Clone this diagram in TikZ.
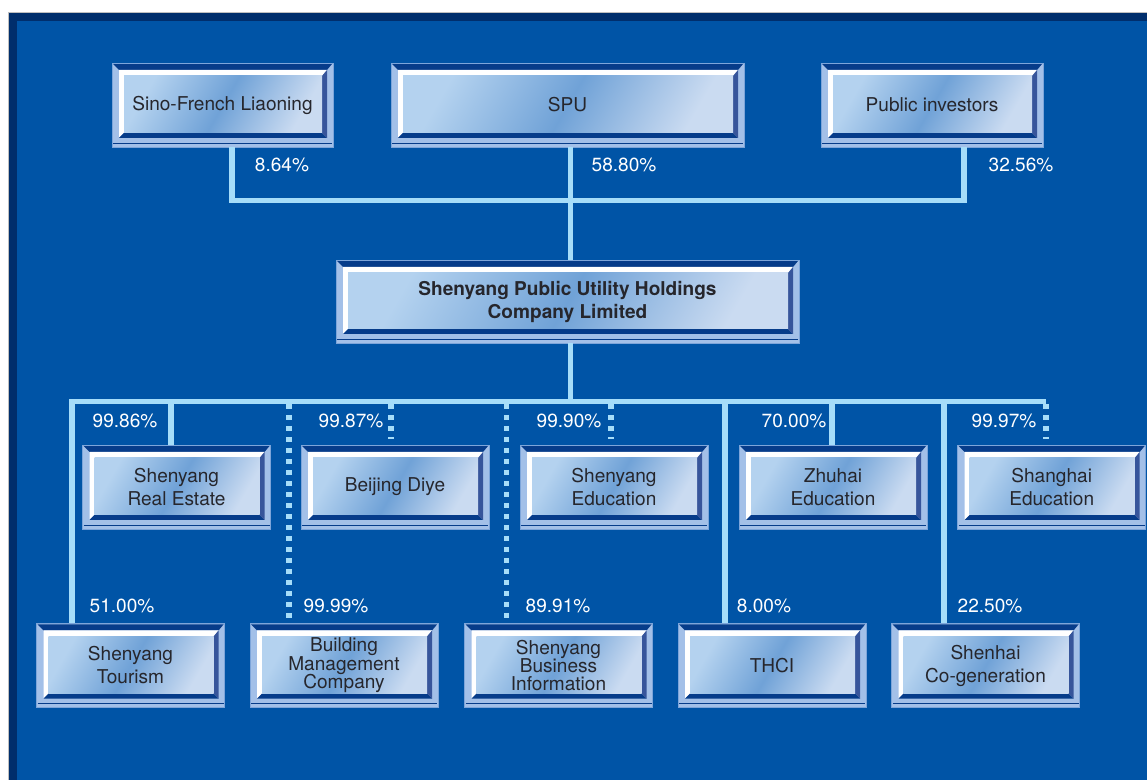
\documentclass[tikz,border=0pt]{standalone}
\usepackage{fontspec}
\setmainfont{TeX Gyre Heros}
\usetikzlibrary{calc}

\definecolor{pagebg}{RGB}{0,84,166}
\definecolor{pageedge}{RGB}{0,46,108}
\definecolor{linkblue}{RGB}{166,221,249}
\definecolor{frameblue}{RGB}{163,192,232}
\definecolor{frameedge}{RGB}{125,165,218}
\definecolor{bevellow}{RGB}{6,60,138}
\definecolor{bevelside}{RGB}{55,85,155}
\definecolor{facelight}{RGB}{180,210,239}
\definecolor{facemid}{RGB}{112,162,215}
\definecolor{faceend}{RGB}{202,219,241}
\definecolor{boxtext}{RGB}{38,38,44}

\tikzset{
  bevelbox/.style={rectangle, inner sep=0pt, fill=frameblue, draw=frameedge, line width=0.5pt,
    minimum width=#1*0.75pt, minimum height=84*0.75pt, text=boxtext, align=center,
    font=\fontsize{14.3}{17.25}\selectfont,
    path picture={
      \coordinate (bnw) at (path picture bounding box.north west);
      \coordinate (bne) at (path picture bounding box.north east);
      \coordinate (bsw) at (path picture bounding box.south west);
      \coordinate (bse) at (path picture bounding box.south east);
      % dark strip under the top edge
      \fill[bevellow] ([shift={(1,1)}]bnw) -- ([shift={(-1,1)}]bne) -- ([shift={(-6,7)}]bne) -- ([shift={(7,7)}]bnw) -- cycle;
      % lit bevel, top and left
      \fill[white] ([shift={(7,7)}]bnw) -- ([shift={(-6,7)}]bne) -- ([shift={(-11,13)}]bne)
        -- ([shift={(12,13)}]bnw) -- ([shift={(12,-14)}]bsw) -- ([shift={(7,-9)}]bsw) -- cycle;
      % shadow bevel, bottom and right
      \fill[bevellow] ([shift={(7,-9)}]bsw) -- ([shift={(-6,-9)}]bse) -- ([shift={(-11,-14)}]bse) -- ([shift={(12,-14)}]bsw) -- cycle;
      \fill[bevelside] ([shift={(-6,7)}]bne) -- ([shift={(-6,-9)}]bse) -- ([shift={(-11,-14)}]bse) -- ([shift={(-11,13)}]bne) -- cycle;
      % face
      \shade[left color=facelight, right color=faceend, middle color=facemid, shading angle=60]
        ([shift={(12,13)}]bnw) rectangle ([shift={(-11,-14)}]bse);
      % thin rule near the foot
      \draw[bevellow, line width=0.6pt] ([shift={(1,-4)}]bsw) -- ([shift={(-1,-4)}]bse);
    }},
  tight/.style={font=\fontsize{14.3}{13.8}\selectfont},
  pct/.style={text=white, inner sep=0pt, font=\fontsize{14.3}{17}\selectfont},
  link/.style={draw=linkblue, line width=4pt},
  tap/.style={draw=linkblue, line width=4pt, dash pattern=on 3.75pt off 4.5pt}
}

\begin{document}
\begin{tikzpicture}[x=0.75pt,y=-0.75pt]
  \useasboundingbox (0,0) rectangle (1147,780);
  % page
  \fill[white] (0,0) rectangle (1147,780);
  \fill[pageedge] (8,12) rectangle (1147,780);
  \fill[pagebg] (17,21) rectangle (1147,780);
  \draw[gray!50, line width=0.5pt] (8,780) -- (8,12) -- (1147,12);

  % shareholders
  \node[bevelbox=221] (sino) at (222.5,105) {Sino-French Liaoning};
  \node[bevelbox=353] (spu) at (567.5,105) {SPU};
  \node[bevelbox=222] (pub) at (932,105) {Public investors};

  % holding company
  \node[bevelbox=463, minimum height=83*0.75pt, font=\fontsize{14.3}{17.25}\selectfont\bfseries] (spuh) at (567.5,301.5)
    {Shenyang Public Utility Holdings\\Company Limited};

  % subsidiaries, upper row
  \node[bevelbox=188] (realestate) at (176.5,487) {Shenyang\\Real Estate};
  \node[bevelbox=188] (diye) at (395,487) {Beijing Diye};
  \node[bevelbox=188] (syedu) at (614,487) {Shenyang\\Education};
  \node[bevelbox=188] (zhedu) at (833,487) {Zhuhai\\Education};
  \node[bevelbox=188] (shedu) at (1051.7,487) {Shanghai\\Education};

  % subsidiaries, lower row
  \node[bevelbox=188] (tourism) at (130.5,665.5) {Shenyang\\Tourism};
  \node[bevelbox=188, tight] (bldg) at (344,665.5) {Building\\Management\\Company};
  \node[bevelbox=188, tight] (binfo) at (558.5,665.5) {Shenyang\\Business\\Information};
  \node[bevelbox=188] (thci) at (772,665.5) {THCI};
  \node[bevelbox=188] (shenhai) at (985.5,665.5) {Shenhai\\Co-generation};

  % upper bus
  \coordinate (jl) at (232,200.5);
  \coordinate (jm) at (570.5,200.5);
  \coordinate (jr) at (964,200.5);
  \draw[link] (sino.south -| jl) -- (jl) -- (jr) -- (pub.south -| jr);
  \draw[link] (spu.south -| jm) -- (spuh.north -| jm);

  % lower bus
  \coordinate (hub) at (570.5,401.5);
  \coordinate (bl) at (72,401.5);
  \coordinate (br) at (1046,401.5);
  \draw[link] (spuh.south -| hub) -- (hub);
  \draw[link] (tourism.north -| bl) -- (bl) -- (br);

  \foreach \n/\x in {realestate/171, zhedu/832, thci/725, shenhai/944}{
    \coordinate (t-\n) at (\x,401.5);
    \draw[link] (t-\n) -- (\n.north -| t-\n);
  }
  \foreach \n/\x/\gap in {diye/391/4.5pt, syedu/611/4.5pt, shedu/1046/4.5pt, bldg/289/0pt, binfo/506.5/0pt}{
    \coordinate (t-\n) at (\x,404);
    \draw[tap, shorten >=\gap] (t-\n) -- (\n.north -| t-\n);
  }

  % holdings
  \node[pct] (p-sino) at (282,165) {8.64\%};
  \node[pct] (p-spu) at (624,165) {58.80\%};
  \node[pct] (p-pub) at (1021,165) {32.56\%};
  \node[pct] (p-realestate) at (125,420.5) {99.86\%};
  \node[pct] (p-diye) at (351,420.5) {99.87\%};
  \node[pct] (p-syedu) at (569,420.5) {99.90\%};
  \node[pct] (p-zhedu) at (794,420.5) {70.00\%};
  \node[pct] (p-shedu) at (1004,420.5) {99.97\%};
  \node[pct] (p-tourism) at (122,605.5) {51.00\%};
  \node[pct] (p-bldg) at (336,605.5) {99.99\%};
  \node[pct] (p-binfo) at (558,605.5) {89.91\%};
  \node[pct] (p-thci) at (764,605.5) {8.00\%};
  \node[pct] (p-shenhai) at (990,605.5) {22.50\%};
\end{tikzpicture}
\end{document}
